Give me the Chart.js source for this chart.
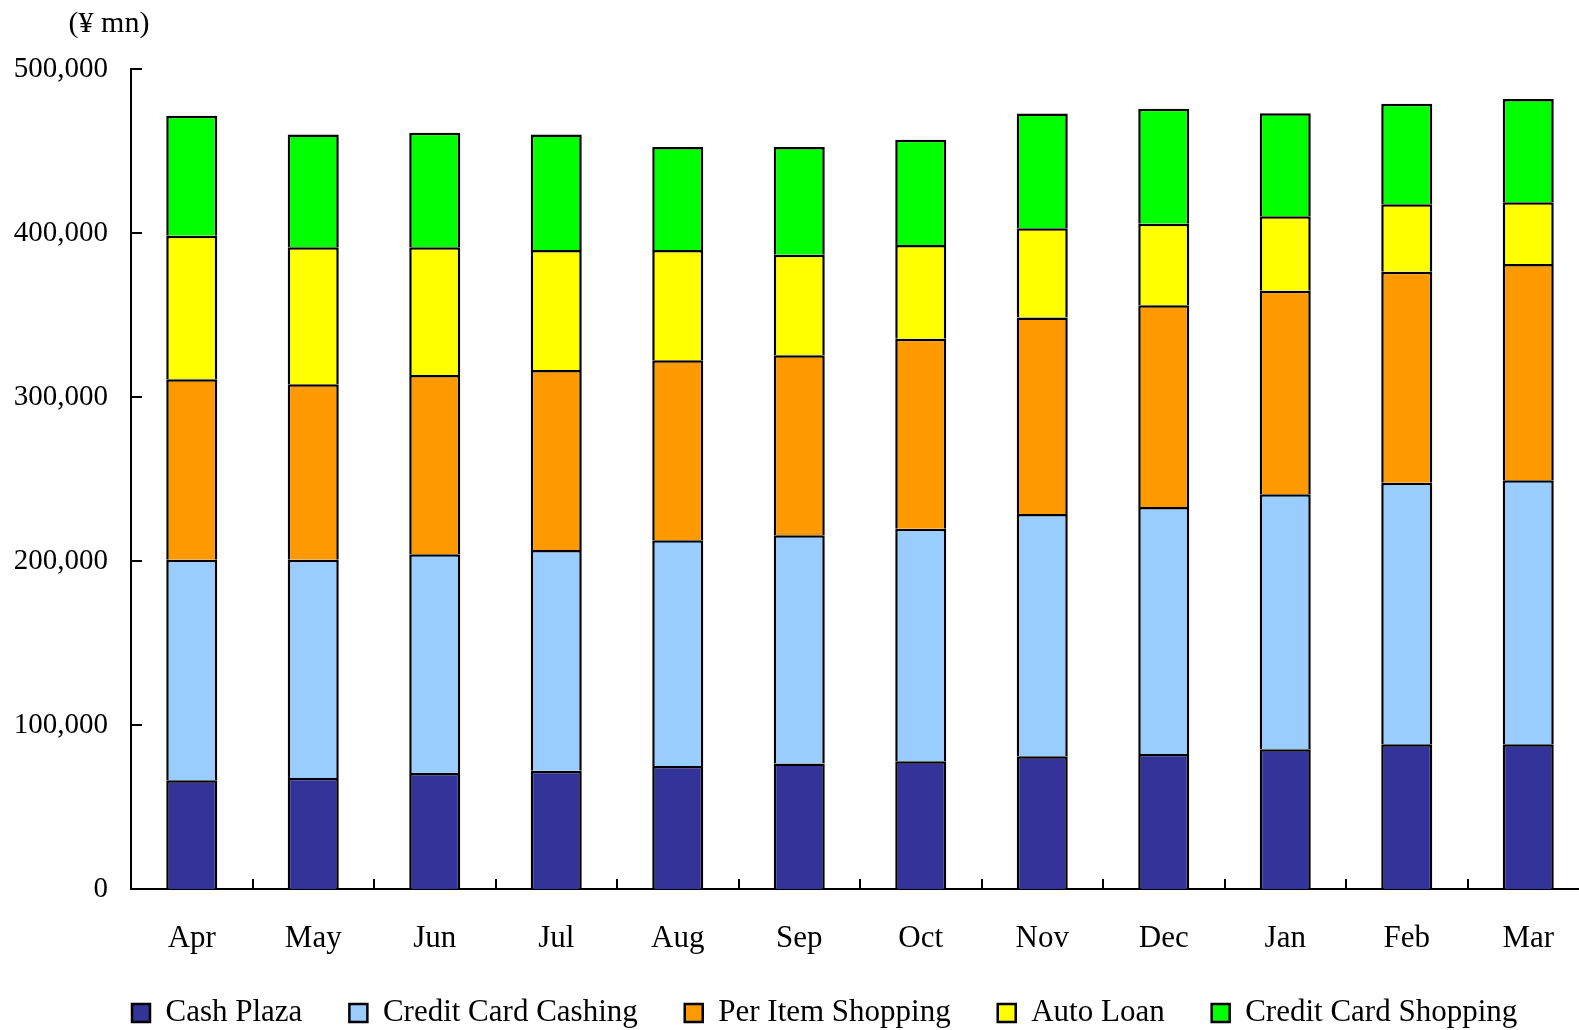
<!DOCTYPE html>
<html>
<head>
<meta charset="utf-8">
<script src="https://cdn.jsdelivr.net/npm/chart.js@4/dist/chart.umd.min.js"></script>
<style>
  html, body { margin: 0; padding: 0; background: #fff; overflow: hidden; }
  #wrap { width: 1589px; height: 1030px; }
</style>
</head>
<body>
<div id="wrap"><canvas id="c" width="1589" height="1030"></canvas></div>
<script>
// Monthly balances by product (¥ mn)
const months = ['Apr', 'May', 'Jun', 'Jul', 'Aug', 'Sep', 'Oct', 'Nov', 'Dec', 'Jan', 'Feb', 'Mar'];
const cashPlaza          = [66300, 67700, 70700, 72100, 75000, 76600, 77900, 80900, 82300, 85200, 88200, 88200];
const creditCardCashing  = [134500, 133100, 133400, 134600, 137600, 139100, 141800, 147800, 150600, 155500, 159500, 161000];
const perItemShopping    = [110000, 106900, 109300, 109800, 109800, 109700, 115800, 119700, 123000, 124100, 128700, 131900];
const autoLoan           = [87500, 83600, 77900, 73100, 67200, 61400, 57200, 54500, 49800, 45400, 41100, 37600];
const creditCardShopping = [73200, 68700, 69900, 70400, 62800, 65600, 64200, 69900, 70100, 62800, 61300, 63000];
const yTickLabels = ['0', '100,000', '200,000', '300,000', '400,000', '500,000'];
const unitLabel = '(\u00A5 mn)';

const serif = "'Liberation Serif', 'Times New Roman', serif";
Chart.defaults.color = '#000';
Chart.defaults.font.family = serif;

// Inward tick marks on both axes plus the unit caption above the value axis
const axisMarks = {
  id: 'axisMarks',
  afterDatasetsDraw(chart) {
    const { ctx, chartArea, scales: { x, y } } = chart;
    ctx.save();
    ctx.strokeStyle = '#000';
    ctx.lineWidth = 2;
    ctx.beginPath();
    y.ticks.forEach(t => {
      const py = Math.round(y.getPixelForValue(t.value));
      ctx.moveTo(chartArea.left, py);
      ctx.lineTo(chartArea.left + 11, py);
    });
    for (let i = 0; i < months.length - 1; i++) {
      const px = Math.round((x.getPixelForValue(i) + x.getPixelForValue(i + 1)) / 2);
      ctx.moveTo(px, chartArea.bottom);
      ctx.lineTo(px, chartArea.bottom - 10);
    }
    ctx.stroke();
    ctx.restore();
  },
  afterDraw(chart) {
    const { ctx, chartArea } = chart;
    ctx.save();
    ctx.fillStyle = '#000';
    ctx.font = '30px ' + serif;
    ctx.textAlign = 'center';
    ctx.textBaseline = 'middle';
    ctx.fillText(unitLabel, chartArea.left - 22, 24);
    ctx.restore();
  }
};

// Place the legend row under the category labels, starting at the value axis
const legendPlacement = {
  id: 'legendPlacement',
  afterLayout(chart) {
    const lg = chart.legend;
    lg.left = 85;
    lg.top = 1013 - 47 - 15.5;
    lg.bottom = chart.height;
    lg.height = lg.bottom - lg.top;
  }
};

const series = [
  { label: 'Cash Plaza', data: cashPlaza, color: '#333399' },
  { label: 'Credit Card Cashing', data: creditCardCashing, color: '#99CCFF' },
  { label: 'Per Item Shopping', data: perItemShopping, color: '#FF9900' },
  { label: 'Auto Loan', data: autoLoan, color: '#FFFF00' },
  { label: 'Credit Card Shopping', data: creditCardShopping, color: '#00FF00' }
];

new Chart(document.getElementById('c'), {
  type: 'bar',
  data: {
    labels: months,
    datasets: series.map(s => ({
      label: s.label,
      data: s.data,
      backgroundColor: s.color,
      borderColor: '#000',
      borderWidth: 2.5,
      categoryPercentage: 1,
      barPercentage: 0.42
    }))
  },
  options: {
    responsive: false,
    animation: false,
    layout: { padding: { top: 69, right: 0, bottom: 0, left: 0 } },
    plugins: {
      legend: {
        position: 'bottom',
        align: 'start',
        maxHeight: 60,
        labels: {
          boxWidth: 18,
          boxHeight: 18,
          padding: 47,
          color: '#000',
          font: { size: 31, family: serif }
        }
      },
      tooltip: { enabled: false },
      title: { display: false }
    },
    scales: {
      x: {
        stacked: true,
        grid: { display: false, drawTicks: false },
        border: { display: true, color: '#000', width: 2 },
        ticks: { padding: 31, font: { size: 31, family: serif }, color: '#000', maxRotation: 0 },
        afterFit(scale) { scale.height = 81; }
      },
      y: {
        stacked: true,
        min: 0,
        max: 500000,
        grid: { display: false, drawTicks: false },
        border: { display: true, color: '#000', width: 2 },
        ticks: {
          stepSize: 100000,
          padding: 23,
          font: { size: 29, family: serif },
          color: '#000',
          callback: (v, i) => yTickLabels[i]
        },
        afterFit(scale) { scale.width = 131; }
      }
    }
  },
  plugins: [axisMarks, legendPlacement]
});
</script>
</body>
</html>
